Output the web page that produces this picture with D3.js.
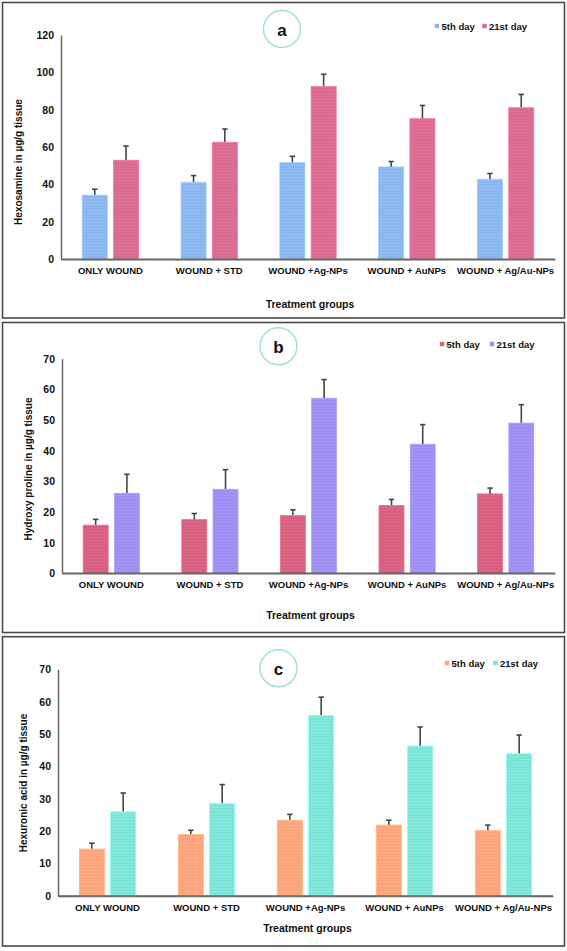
<!DOCTYPE html>
<html>
<head>
<meta charset="utf-8">
<script src="https://cdn.jsdelivr.net/npm/d3@7"></script>
<style>
  html, body { margin: 0; padding: 0; background: #fff; }
  svg { display: block; }
  text { font-family: "Liberation Sans", Arial, sans-serif; font-weight: bold; fill: #111; }
</style>
</head>
<body>
<svg id="chart" width="567" height="951"></svg>
<script>
// ---------- DATA ----------
const categories = ["ONLY WOUND", "WOUND + STD", "WOUND +Ag-NPs", "WOUND + AuNPs", "WOUND + Ag/Au-NPs"];
const seriesNames = ["5th day", "21st day"];

// (a) Hexosamine in µg/g tissue
const hexosamineDay5 = [34.3, 41.2, 51.7, 49.4, 42.8];
const hexosamineDay5Err = [3.2, 3.6, 3.4, 2.9, 3.1];
const hexosamineDay21 = [53.0, 62.6, 92.4, 75.2, 81.1];
const hexosamineDay21Err = [7.6, 7.1, 6.6, 7.1, 7.1];
const hexosamineTicks = [0, 20, 40, 60, 80, 100, 120];

// (b) Hydroxy proline in µg/g tissue
const prolineDay5 = [15.7, 17.5, 18.8, 22.1, 25.9];
const prolineDay5Err = [1.9, 2.0, 1.9, 2.0, 1.9];
const prolineDay21 = [26.1, 27.4, 57.1, 42.1, 49.0];
const prolineDay21Err = [6.2, 6.4, 6.1, 6.4, 6.0];
const prolineTicks = [0, 10, 20, 30, 40, 50, 60, 70];

// (c) Hexuronic acid in µg/g tissue
const uronicDay5 = [14.5, 19.0, 23.4, 21.9, 20.2];
const uronicDay5Err = [1.8, 1.3, 1.8, 1.5, 1.7];
const uronicDay21 = [26.0, 28.6, 55.7, 46.3, 43.9];
const uronicDay21Err = [5.8, 5.8, 5.7, 5.9, 5.8];
const uronicTicks = [0, 10, 20, 30, 40, 50, 60, 70];

// ---------- LAYOUT / STYLE ----------
const panels = [
  { letter: "a", yTitle: "Hexosamine in µg/g tissue",
    v5: hexosamineDay5, e5: hexosamineDay5Err, v21: hexosamineDay21, e21: hexosamineDay21Err,
    ticks: hexosamineTicks, colors: ["#8ab6ed", "#d96b90"],
    box: [2.5, 2.5, 562, 315.5], left: 61, right: 555, top: 35, bottom: 259.3,
    catY: 271, xTitleY: 304, yTitleX: 18, yTitleY: 162,
    circle: [282, 29], legY: 26, legX: [437, 484.5] },
  { letter: "b", yTitle: "Hydroxy proline in µg/g tissue",
    v5: prolineDay5, e5: prolineDay5Err, v21: prolineDay21, e21: prolineDay21Err,
    ticks: prolineTicks, colors: ["#d6607f", "#9d8ff0"],
    box: [2.5, 322.5, 562, 310], left: 62, right: 555, top: 358.7, bottom: 573.3,
    catY: 585, xTitleY: 615, yTitleX: 28, yTitleY: 469,
    circle: [278.5, 346.3], legY: 344, legX: [442, 492] },
  { letter: "c", yTitle: "Hexuronic acid in µg/g tissue",
    v5: uronicDay5, e5: uronicDay5Err, v21: uronicDay21, e21: uronicDay21Err,
    ticks: uronicTicks, colors: ["#f9a47c", "#7de3d6"],
    box: [2.5, 636.7, 562, 309.3], left: 58, right: 553, top: 669.3, bottom: 896,
    catY: 907, xTitleY: 928, yTitleX: 23, yTitleY: 783,
    circle: [278.5, 668.3], legY: 663, legX: [447, 495.5] }
];

const svg = d3.select("#chart");
const defs = svg.append("defs");

function stripePattern(id, color) {
  const p = defs.append("pattern").attr("id", id).attr("patternUnits", "userSpaceOnUse")
    .attr("width", 4).attr("height", 3);
  p.append("rect").attr("width", 4).attr("height", 3).attr("fill", color);
  const lighter = d3.color(color).brighter(0.12);
  p.append("rect").attr("y", 0).attr("width", 4).attr("height", 1).attr("fill", lighter);
  return `url(#${id})`;
}

panels.forEach((P, pi) => {
  const g = svg.append("g");
  // panel frame
  g.append("rect").attr("x", P.box[0]).attr("y", P.box[1]).attr("width", P.box[2]).attr("height", P.box[3])
    .attr("fill", "#fff").attr("stroke", "#4a4a4a").attr("stroke-width", 1.6);

  const yMax = d3.max(P.ticks);
  const y = d3.scaleLinear().domain([0, yMax]).range([P.bottom, P.top]);
  const x0 = d3.scaleBand().domain(categories).range([P.left, P.right]).paddingInner(0.43).paddingOuter(0.215);
  const x1 = d3.scaleBand().domain(seriesNames).range([0, x0.bandwidth()]).paddingInner(0.2);

  // y axis
  const yAxis = d3.axisLeft(y).tickValues(P.ticks).tickSize(0).tickPadding(7).tickFormat(d3.format("d"));
  const ya = g.append("g").attr("transform", `translate(${P.left},0)`).call(yAxis);
  ya.select(".domain").attr("stroke", "#666").attr("stroke-width", 1.5);
  ya.selectAll("text").attr("font-size", 10.5).attr("font-family", "Liberation Sans, Arial").attr("font-weight", "bold").attr("fill", "#111");

  // x axis
  const xAxis = d3.axisBottom(x0).tickSize(0).tickPadding(8);
  const xa = g.append("g").attr("transform", `translate(0,${P.bottom})`).call(xAxis);
  xa.select(".domain").attr("stroke", "#666").attr("stroke-width", 1.5);
  xa.selectAll("text").attr("font-size", 9.5).attr("font-family", "Liberation Sans, Arial").attr("font-weight", "bold")
    .attr("fill", "#111").attr("dy", null).attr("y", P.catY - P.bottom).attr("dominant-baseline", "central");

  const fills = P.colors.map((c, i) => stripePattern(`pat${pi}_${i}`, c));

  const rows = categories.map((c, i) => ({
    cat: c,
    vals: [
      { s: seriesNames[0], v: P.v5[i], e: P.e5[i], k: 0 },
      { s: seriesNames[1], v: P.v21[i], e: P.e21[i], k: 1 }
    ]
  }));

  const grp = g.selectAll(".grp").data(rows).join("g")
    .attr("transform", d => `translate(${x0(d.cat)},0)`);

  // error bars (upper only)
  grp.selectAll(".err").data(d => d.vals).join("g").each(function(d) {
    const cx = x1(d.s) + x1.bandwidth() / 2;
    const sel = d3.select(this);
    sel.append("line").attr("x1", cx).attr("x2", cx).attr("y1", y(d.v)).attr("y2", y(d.v + d.e))
      .attr("stroke", "#3e464e").attr("stroke-width", 1.6);
    sel.append("line").attr("x1", cx - 2.7).attr("x2", cx + 2.7).attr("y1", y(d.v + d.e)).attr("y2", y(d.v + d.e))
      .attr("stroke", "#3e464e").attr("stroke-width", 1.6);
  });

  grp.selectAll(".bar").data(d => d.vals).join("rect")
    .attr("x", d => x1(d.s)).attr("width", x1.bandwidth())
    .attr("y", d => y(d.v)).attr("height", d => y(0) - y(d.v))
    .attr("fill", d => fills[d.k])
    .attr("stroke", d => d3.color(P.colors[d.k]).brighter(0.3)).attr("stroke-width", 0.8);

  // redraw x axis line on top of bars
  g.append("line").attr("x1", P.left).attr("x2", P.right).attr("y1", P.bottom).attr("y2", P.bottom)
    .attr("stroke", "#666").attr("stroke-width", 1.5);

  // axis titles
  g.append("text").attr("x", (P.left + P.right) / 2 + 2).attr("y", P.xTitleY)
    .attr("text-anchor", "middle").attr("dominant-baseline", "central").attr("font-size", 10.5)
    .text("Treatment groups");
  g.append("text").attr("transform", `translate(${P.yTitleX},${P.yTitleY}) rotate(-90)`)
    .attr("text-anchor", "middle").attr("dominant-baseline", "central").attr("font-size", 10)
    .text(P.yTitle);

  // panel letter circle
  g.append("circle").attr("cx", P.circle[0]).attr("cy", P.circle[1]).attr("r", 18.5)
    .attr("fill", "#fff").attr("stroke", "#9fe3cf").attr("stroke-width", 1.5);
  g.append("text").attr("x", P.circle[0]).attr("y", P.circle[1] + 1)
    .attr("text-anchor", "middle").attr("dominant-baseline", "central").attr("font-size", 17)
    .text(P.letter);

  // legend
  seriesNames.forEach((s, i) => {
    g.append("rect").attr("x", P.legX[i] - 2.2).attr("y", P.legY - 2.2).attr("width", 4.4).attr("height", 4.4)
      .attr("fill", P.colors[i]);
    g.append("text").attr("x", P.legX[i] + 4.5).attr("y", P.legY).attr("dominant-baseline", "central")
      .attr("font-size", 9.5).text(s);
  });
});
</script>
</body>
</html>
